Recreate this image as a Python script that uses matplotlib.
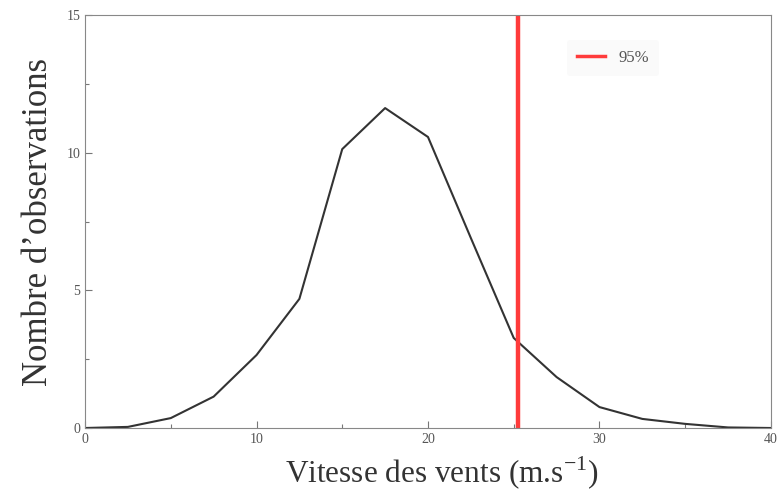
import matplotlib
matplotlib.use("Agg")
import matplotlib.pyplot as plt
from matplotlib.ticker import MultipleLocator

plt.rcParams['font.family'] = ['Liberation Serif', 'DejaVu Serif']
plt.rcParams['mathtext.fontset'] = 'custom'
plt.rcParams['mathtext.rm'] = 'Liberation Serif'

# wind speed classes and counts
vitesse = [0, 2.5, 5, 7.5, 10, 12.5, 15, 17.5, 20, 22.5, 25, 27.5, 30, 32.5, 35, 37.5, 40]
observations = [0, 0.04, 0.36, 1.14, 2.65, 4.69, 10.13, 11.62, 10.57, 6.9, 3.27, 1.85, 0.76, 0.33, 0.15, 0.02, 0]
seuil_95 = 25.25

fig = plt.figure(figsize=(7.83, 4.94), dpi=100)
ax = fig.add_axes([0.1086, 0.1336, 0.876, 0.836])

ax.plot(vitesse, observations, color='#333333', lw=1.5)
ax.axvline(seuil_95, color='#ff3b3b', lw=3.2, label='95%')

ax.set_xlim(0, 40)
ax.set_ylim(0, 15)
ax.xaxis.set_major_locator(MultipleLocator(10))
ax.xaxis.set_minor_locator(MultipleLocator(5))
ax.yaxis.set_major_locator(MultipleLocator(5))
ax.yaxis.set_minor_locator(MultipleLocator(2.5))
ax.tick_params(which='both', direction='in', colors='#777777', labelsize=10,
               labelcolor='#555555', width=0.8)
ax.tick_params(which='major', length=5)
ax.tick_params(which='minor', length=3)
for s in ax.spines.values():
    s.set_color('#888888')
    s.set_linewidth(0.8)

ax.set_xlabel('Vitesse des vents (m.s$^{\\mathregular{-1}}$)', fontsize=22.5, color='#333333', labelpad=2)
ax.xaxis.set_label_coords(0.52, -0.065)
ax.set_ylabel('Nombre d’observations', fontsize=25, color='#333333', labelpad=8)

leg = ax.legend(loc='upper left', bbox_to_anchor=(0.69, 0.96), frameon=True,
                fontsize=12, handlelength=1.7, borderpad=0.6)
leg.get_frame().set_facecolor('#f9f9f9')
leg.get_frame().set_edgecolor('none')
for h in leg.get_lines():
    h.set_linewidth(2.5)
for t in leg.get_texts():
    t.set_color('#555555')

fig.savefig('out.png', dpi=100)
